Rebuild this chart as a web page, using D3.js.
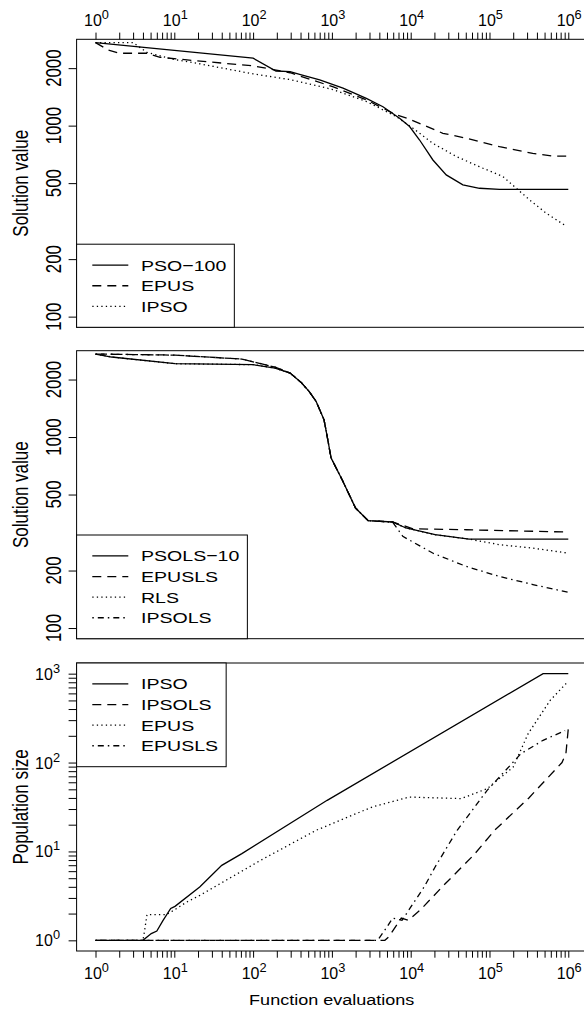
<!DOCTYPE html>
<html>
<head>
<meta charset="utf-8">
<script src="https://cdn.jsdelivr.net/npm/d3@7"></script>
<style>
  body { margin: 0; background: #fff; }
  text { font-family: "Liberation Sans", Arial, Helvetica, sans-serif; fill: #000; }
</style>
</head>
<body>
<svg id="chart" width="584" height="1009"></svg>
<script>
// ---- datos: [evaluaciones, valor] ----
var xTicks = [1, 10, 100, 1000, 10000, 100000, 1000000];
var xTickExp = ["0", "1", "2", "3", "4", "5", "6"];
var solTicks = [100, 200, 500, 1000, 2000];
var popTicks = [1, 10, 100, 1000];
var popTickExp = ["0", "1", "2", "3"];

// panel 1
var names1 = ["PSO\u2212100", "EPUS", "IPSO"];
var pso100 = [[1,2720],[100,2254],[195,1932],[295,1918],[389,1858],[700,1734],[1384,1570],[2735,1390],
  [4446,1256],[7228,1094],[9683,989],[12970,841],[19140,661],[28250,552],[45920,490],[74650,470],
  [134000,464],[1000000,464]];
var epus1 = [[1,2720],[1.45,2490],[2,2393],[4.5,2393],[6.6,2280],[14.5,2208],[100,2056],[295,1892],
  [389,1820],[1023,1600],[2735,1365],[6561,1138],[9683,1081],[25590,912],[50580,859],[134000,776],
  [354000,716],[631000,693],[1000000,693]];
var ipso1 = [[1,2720],[3,2720],[4.5,2420],[9.7,2223],[19,2123],[100,1866],[300,1740],[1000,1550],
  [2750,1337],[6600,1114],[10700,968],[19000,809],[38000,689],[74000,610],[148000,541],[219000,470],
  [324000,408],[525000,348],[890000,302]];

// panel 2
var names2 = ["PSOLS\u221210", "EPUSLS", "RLS", "IPSOLS"];
var psols10 = [[1,2720],[1.6,2624],[10.2,2421],[100,2393],[190,2296],[295,2163],[407,1932],[513,1734],
  [631,1535],[794,1233],[871,1007],[977,776],[1349,597],[1995,425],[2884,365],[5888,359],[8710,334],
  [20400,308],[55000,292],[1000000,292]];
var epusls2 = [[1,2720],[10.2,2685],[72,2559],[190,2323],[295,2163],[407,1932],[513,1734],[631,1535],
  [794,1233],[871,1007],[977,776],[1349,597],[1995,425],[2884,365],[5888,359],[10700,331],[51000,327],
  [1000000,318]];
var rls2 = [[1,2720],[1.6,2624],[10.2,2421],[100,2393],[190,2296],[295,2163],[407,1932],[513,1734],
  [631,1535],[794,1233],[871,1007],[977,776],[1349,597],[1995,425],[2884,365],[5888,359],[8710,334],
  [20400,308],[55000,292],[135000,273],[355000,262],[980000,247]];
var ipsols2 = [[1,2720],[10.2,2685],[72,2559],[190,2323],[295,2163],[407,1932],[513,1734],[631,1535],
  [794,1233],[871,1007],[977,776],[1349,597],[1995,425],[2884,365],[5888,359],[7940,302],[19000,247],
  [51000,210],[135000,186],[355000,169],[980000,154]];

// panel 3 (tamano de poblacion)
var names3 = ["IPSO", "IPSOLS", "EPUS", "EPUSLS"];
var ipso3 = [[1,1],[4,1],[5.1,1.19],[6,1.27],[7.2,1.68],[9,2.28],[10.2,2.41],[21,3.98],[40,6.98],
  [72,9.44],[871,37.6],[479000,1000],[1000000,1000]];
var ipsols3 = [[1,1],[4700,1],[5250,1.09],[7600,1.78],[9300,1.68],[13200,2.19],[26300,4.17],[63000,9.1],
  [117000,17.4],[316000,40],[832000,100],[933000,126],[1000000,240]];
var epus3 = [[1,1],[4,1],[4.2,1.29],[4.5,1.95],[7.9,1.95],[9.8,2.17],[14.3,2.69],[21,3.2],[123,7.9],
  [631,17.3],[3236,31.6],[9550,40.9],[43650,39.3],[93300,50.8],[200000,89],[309000,211],[589000,501],
  [977000,805]];
var epusls3 = [[1,1],[3800,1],[5000,1.41],[5900,1.78],[7760,1.68],[14800,3.98],[20400,6.68],[38900,17.3],
  [93300,48.6],[251000,126],[479000,178],[912000,229]];

// ---- estilos ----
var tipos = { solid: null, dashed: "9,6", dotted: "1.3,3.2", dotdash: "1.5,4,6,4" };
var SX = 1.27;          // estiramiento horizontal del texto
var FS = 15.4;          // texto de leyenda y titulo x
var FSR = 16.8;         // etiquetas giradas

var svg = d3.select("#chart");
var left = 76.6, right = 587.2, alto = 288;

function ext(lo, hi) {
  var a = Math.log10(lo), b = Math.log10(hi), e = (b - a) * 0.04;
  return [Math.pow(10, a - e), Math.pow(10, b + e)];
}

var x = d3.scaleLog().domain(ext(1, 1e6)).range([left, right]);
var minorX = [];
for (var k = 0; k < 6; k++) for (var m = 1; m < 10; m++) minorX.push(m * Math.pow(10, k));
minorX.push(1e6);

function panel(top, yLim, series, names, estilos, legendTop) {
  var y = d3.scaleLog().domain(ext(yLim[0], yLim[1])).range([top + alto, top]);
  var g = svg.append("g");
  var line = d3.line().x(function(d) { return x(d[0]); }).y(function(d) { return y(d[1]); });

  var clip = "clip" + Math.round(top);
  svg.append("clipPath").attr("id", clip).append("rect")
     .attr("x", left).attr("y", top).attr("width", right - left).attr("height", alto);

  series.forEach(function(s, i) {
    g.append("path").attr("d", line(s)).attr("clip-path", "url(#" + clip + ")")
     .attr("fill", "none").attr("stroke", "#000").attr("stroke-width", 1.3)
     .attr("stroke-dasharray", tipos[estilos[i]]);
  });

  g.append("rect").attr("x", left).attr("y", top).attr("width", right - left).attr("height", alto)
   .attr("fill", "none").attr("stroke", "#000").attr("stroke-width", 1);

  // leyenda
  var n = names.length, lh = 21.3 + n * 20.6;
  var ly = legendTop === "top" ? top : top + alto - lh;
  var lg = g.append("g");
  var caja = lg.append("rect").attr("x", left).attr("y", ly).attr("height", lh)
               .attr("fill", "#fff").attr("stroke", "#000").attr("stroke-width", 1);
  var maxw = 0;
  names.forEach(function(nm, i) {
    var cy = ly + 20.95 + 20.6 * i;
    lg.append("line").attr("x1", 92.3).attr("x2", 128.3).attr("y1", cy).attr("y2", cy)
      .attr("stroke", "#000").attr("stroke-width", 1.3).attr("stroke-dasharray", tipos[estilos[i]]);
    var t = lg.append("text").attr("transform", "translate(141," + (cy + 5.5) + ") scale(" + SX + ",1)")
      .attr("font-size", FS).text(nm);
    maxw = Math.max(maxw, t.node().getComputedTextLength() * SX);
  });
  caja.attr("width", 141 - left + maxw + 8);
  return { g: g, y: y };
}

function supLabel(g, px, py, exp, anchor, fs) {
  var t = g.append("text").attr("x", px).attr("y", py).attr("font-size", fs)
    .attr("text-anchor", anchor).text("10");
  t.append("tspan").attr("dy", -7).attr("font-size", fs * 0.8).text(exp);
}

// ---- panel 1 ----
var p1 = panel(39.3, [100, 2490], [pso100, epus1, ipso1], names1, ["solid", "dashed", "dotted"], "bottom");
// ---- panel 2 ----
var p2 = panel(350.7, [100, 2490], [psols10, epusls2, rls2, ipsols2], names2,
               ["solid", "dashed", "dotted", "dotdash"], "bottom");
// ---- panel 3 ----
var p3 = panel(663, [1, 1000], [ipso3, ipsols3, epus3, epusls3], names3,
               ["solid", "dashed", "dotted", "dotdash"], "top");

// eje x superior
var ejeTop = svg.append("g").attr("transform", "translate(0,39.3)")
  .call(d3.axisTop(x).tickValues(minorX).tickFormat("").tickSize(6.7));
ejeTop.select(".domain").remove();
xTicks.forEach(function(v, i) { supLabel(svg, x(v) + 1, 26, xTickExp[i], "middle", 16); });

// eje x inferior
var ejeBot = svg.append("g").attr("transform", "translate(0,951)")
  .call(d3.axisBottom(x).tickValues(minorX).tickFormat("").tickSize(6.7));
ejeBot.select(".domain").remove();
xTicks.forEach(function(v, i) { supLabel(svg, x(v) + 1, 979.3, xTickExp[i], "middle", 16); });

svg.append("text").attr("transform", "translate(331.7,1005) scale(1.17,1)")
  .attr("text-anchor", "middle").attr("font-size", FS).text("Function evaluations");

// ejes y de los paneles 1 y 2
[p1, p2].forEach(function(p) {
  var ax = svg.append("g").attr("transform", "translate(" + left + ",0)")
    .call(d3.axisLeft(p.y).tickValues(solTicks).tickFormat("").tickSize(8));
  ax.select(".domain").remove();
  solTicks.forEach(function(v) {
    svg.append("text").attr("transform", "translate(60.7," + p.y(v) + ") scale(" + SX + ",1) rotate(-90)")
      .attr("text-anchor", "middle").attr("font-size", FSR).text(v);
  });
  var yc = (p.y.range()[0] + p.y.range()[1]) / 2;
  svg.append("text").attr("transform", "translate(28," + yc + ") scale(" + SX + ",1) rotate(-90)")
    .attr("text-anchor", "middle").attr("font-size", 17).text("Solution value");
});

// eje y del panel 3
var minorY = [];
for (var k2 = 0; k2 < 3; k2++) for (var m2 = 1; m2 < 10; m2++) minorY.push(m2 * Math.pow(10, k2));
minorY.push(1000);
var ax3 = svg.append("g").attr("transform", "translate(" + left + ",0)")
  .call(d3.axisLeft(p3.y).tickValues(minorY).tickFormat("").tickSize(8));
ax3.select(".domain").remove();
popTicks.forEach(function(v, i) { supLabel(svg, 60, p3.y(v) + 6, popTickExp[i], "end", 16); });
var yc3 = (p3.y.range()[0] + p3.y.range()[1]) / 2;
svg.append("text").attr("transform", "translate(28," + yc3 + ") scale(" + SX + ",1) rotate(-90)")
  .attr("text-anchor", "middle").attr("font-size", 17).text("Population size");
</script>
</body>
</html>
